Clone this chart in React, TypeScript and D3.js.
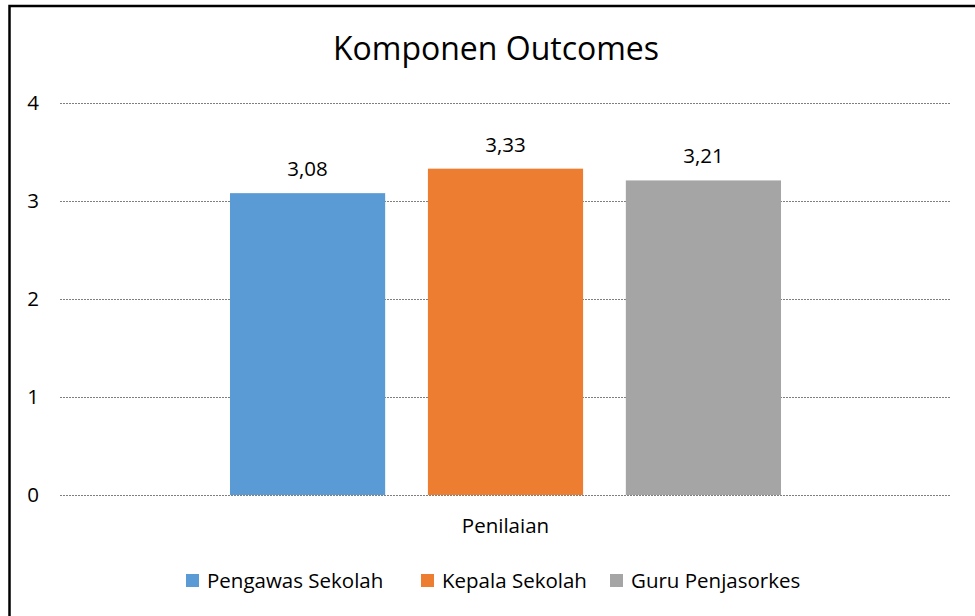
import React, { useEffect, useRef } from "react";
import * as d3 from "d3";

const categories = ["Penilaian"];
const seriesNames = ["Pengawas Sekolah", "Kepala Sekolah", "Guru Penjasorkes"];
const seriesValues = [3.08, 3.33, 3.21];
const seriesColors = ["#5b9bd5", "#ed7d31", "#a5a5a5"];
const yTicks = [0, 1, 2, 3, 4];

const width = 975;
const height = 616;
const margin = { top: 103, right: 24, bottom: 121, left: 60 };
const font = "'Open Sans', sans-serif";
const labelSize = 20.5;

export default function App() {
  const svgRef = useRef<SVGSVGElement>(null);

  useEffect(() => {
    const svg = d3.select(svgRef.current);
    svg.selectAll("*").remove();

    // chart border (runs off the right and bottom edges, as in the reference)
    svg
      .append("rect")
      .attr("x", 9.5)
      .attr("y", 6)
      .attr("width", width + 20)
      .attr("height", height + 20)
      .attr("fill", "white")
      .attr("stroke", "#000")
      .attr("stroke-width", 2.5);

    const y = d3
      .scaleLinear()
      .domain([0, 4])
      .range([height - margin.bottom, margin.top]);

    const x0 = d3
      .scaleBand()
      .domain(categories)
      .range([margin.left, width - margin.right])
      .paddingInner(0)
      .paddingOuter(0.3085);

    const x1 = d3
      .scaleBand()
      .domain(seriesNames)
      .range([0, x0.bandwidth()])
      .paddingInner(0.216);

    // gridlines
    svg
      .append("g")
      .selectAll("line")
      .data(yTicks)
      .join("line")
      .attr("x1", margin.left)
      .attr("x2", width - margin.right)
      .attr("y1", (d) => Math.round(y(d)) + 0.5)
      .attr("y2", (d) => Math.round(y(d)) + 0.5)
      .attr("stroke", "#7f7f7f")
      .attr("stroke-width", 1)
      .attr("stroke-dasharray", "2 1");

    // y labels
    svg
      .append("g")
      .selectAll("text")
      .data(yTicks)
      .join("text")
      .attr("x", 33)
      .attr("y", (d) => y(d) + 6.5)
      .attr("text-anchor", "middle")
      .attr("font-family", font)
      .attr("font-size", labelSize)
      .attr("fill", "#000")
      .text((d) => d);

    // bars
    const g = svg
      .append("g")
      .attr("transform", `translate(${x0(categories[0])},0)`);

    g.selectAll("rect")
      .data(seriesValues)
      .join("rect")
      .attr("x", (d, i) => x1(seriesNames[i])!)
      .attr("y", (d) => y(d))
      .attr("width", x1.bandwidth())
      .attr("height", (d) => y(0) - y(d))
      .attr("fill", (d, i) => seriesColors[i]);

    g.selectAll("text")
      .data(seriesValues)
      .join("text")
      .attr("x", (d, i) => x1(seriesNames[i])! + x1.bandwidth() / 2)
      .attr("y", (d) => y(d) - 17)
      .attr("text-anchor", "middle")
      .attr("font-family", font)
      .attr("font-size", labelSize)
      .attr("fill", "#000")
      .text((d) => d.toFixed(2).replace(".", ","));

    // x category label
    svg
      .append("text")
      .attr("x", x0(categories[0])! + x0.bandwidth() / 2)
      .attr("y", 533)
      .attr("text-anchor", "middle")
      .attr("font-family", font)
      .attr("font-size", labelSize)
      .attr("fill", "#000")
      .text(categories[0]);

    // title
    svg
      .append("text")
      .attr("x", 496)
      .attr("y", 60)
      .attr("text-anchor", "middle")
      .attr("font-family", font)
      .attr("font-size", 32)
      .attr("fill", "#000")
      .text("Komponen Outcomes");

    // legend
    const legendX = [186, 421, 610];
    const lg = svg
      .append("g")
      .selectAll("g")
      .data(seriesNames)
      .join("g")
      .attr("transform", (d, i) => `translate(${legendX[i]},574)`);
    lg.append("rect")
      .attr("width", 13)
      .attr("height", 13)
      .attr("fill", (d, i) => seriesColors[i]);
    lg.append("text")
      .attr("x", 21)
      .attr("y", 14)
      .attr("font-family", font)
      .attr("font-size", labelSize)
      .attr("fill", "#000")
      .text((d) => d);
  }, []);

  return (
    <svg
      ref={svgRef}
      width={width}
      height={height}
      style={{ position: "absolute", left: 0, top: 0 }}
    />
  );
}
